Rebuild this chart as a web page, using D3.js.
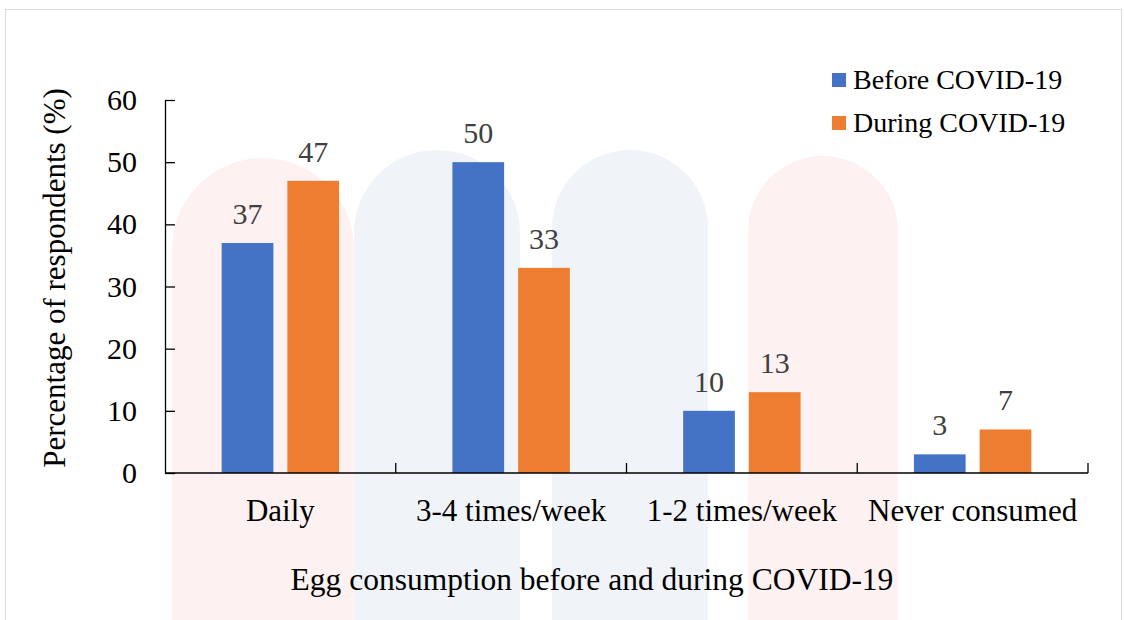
<!DOCTYPE html>
<html>
<head>
<meta charset="utf-8">
<script src="https://cdn.jsdelivr.net/npm/d3@7"></script>
<style>
  body { margin: 0; background: #fff; }
  svg, svg text { font-family: "Liberation Serif", "Times New Roman", Times, serif !important; }
</style>
</head>
<body>
<svg id="chart" width="1124" height="620" font-family="Liberation Serif"></svg>
<script>
// data
const categories = ["Daily", "3-4 times/week", "1-2 times/week", "Never consumed"];
const seriesNames = ["Before COVID-19", "During COVID-19"];
const before = [37, 50, 10, 3];
const during = [47, 33, 13, 7];
const yTicks = [0, 10, 20, 30, 40, 50, 60];

const colors = ["#4472C4", "#ED7D31"];
const serif = "Liberation Serif";

var svg = d3.select("#chart");

// outer frame
svg.append("rect")
    .attr("x", 5.5).attr("y", 9.5)
    .attr("width", 1116).attr("height", 620)
    .attr("fill", "#fff")
    .attr("stroke", "#d9d9d9");

// faint watermark behind the plot
const wm = svg.append("g").attr("class", "watermark");
const arches = [
    {x: 172, w: 182, top: 158, fill: "#fdf1f1"},
    {x: 354, w: 166, top: 150, fill: "#f0f4f8"},
    {x: 552, w: 156, top: 150, fill: "#f0f4f8"},
    {x: 748, w: 150, top: 156, fill: "#fdf1f1"}
];
arches.forEach(a => {
    const r = a.w / 2;
    wm.append("path")
        .attr("d", `M${a.x},620 V${a.top + r} A${r},${r} 0 0 1 ${a.x + a.w},${a.top + r} V620 Z`)
        .attr("fill", a.fill);
});

const margin = {left: 165, right: 36, top: 100, bottom: 147};
const plotW = 1124 - margin.left - margin.right;
const plotH = 620 - margin.top - margin.bottom;

const x0 = d3.scaleBand()
    .domain(categories)
    .range([0, plotW]);

const x1 = d3.scaleBand()
    .domain(seriesNames)
    .range([0, x0.bandwidth()])
    .paddingInner(0.213)
    .paddingOuter(0.8625);

const y = d3.scaleLinear()
    .domain([0, 60])
    .range([plotH, 0]);

const g = svg.append("g")
    .attr("transform", `translate(${margin.left},${margin.top})`);

// y axis
const yAxis = g.append("g")
    .call(d3.axisLeft(y).tickValues(yTicks).tickSizeInner(-10).tickSizeOuter(0).tickPadding(28))
    .attr("font-family", serif);
yAxis.select(".domain").attr("stroke", "#000").attr("stroke-width", 1.3);
yAxis.selectAll(".tick line").attr("stroke", "#000").attr("stroke-width", 1.3);
yAxis.selectAll(".tick text")
    .attr("fill", "#000")
    .attr("font-family", serif)
    .attr("font-size", 30);

// bars
const rows = categories.map((c, i) => ({cat: c, vals: [before[i], during[i]]}));
const groups = g.selectAll(".grp")
    .data(rows)
    .enter().append("g")
    .attr("class", "grp")
    .attr("transform", d => `translate(${x0(d.cat)},0)`);

groups.selectAll("rect")
    .data(d => d.vals.map((v, j) => ({s: seriesNames[j], v: v, j: j})))
    .enter().append("rect")
    .attr("x", d => x1(d.s))
    .attr("y", d => y(d.v))
    .attr("width", x1.bandwidth())
    .attr("height", d => plotH - y(d.v))
    .attr("fill", d => colors[d.j]);

groups.selectAll("text")
    .data(d => d.vals.map((v, j) => ({s: seriesNames[j], v: v, j: j})))
    .enter().append("text")
    .attr("x", d => x1(d.s) + x1.bandwidth() / 2)
    .attr("y", d => y(d.v) - 19)
    .attr("text-anchor", "middle")
    .attr("fill", "#404040")
    .attr("font-family", serif)
    .attr("font-size", 30)
    .text(d => d.v);

// x axis (ticks between categories)
const xAxisG = g.append("g").attr("transform", `translate(0,${plotH})`);
xAxisG.append("line")
    .attr("x1", 0).attr("x2", plotW)
    .attr("stroke", "#000").attr("stroke-width", 1.3);
xAxisG.selectAll(".sep")
    .data(categories)
    .enter().append("line")
    .attr("x1", d => x0(d) + x0.bandwidth())
    .attr("x2", d => x0(d) + x0.bandwidth())
    .attr("y1", 0).attr("y2", -10)
    .attr("stroke", "#000").attr("stroke-width", 1.3);
xAxisG.selectAll(".lbl")
    .data(categories)
    .enter().append("text")
    .attr("x", d => x0(d) + x0.bandwidth() / 2)
    .attr("y", 48)
    .attr("text-anchor", "middle")
    .attr("fill", "#000")
    .attr("font-family", serif)
    .attr("font-size", 31)
    .text(d => d);

// axis titles
svg.append("text")
    .attr("x", 592)
    .attr("y", 590)
    .attr("text-anchor", "middle")
    .attr("font-family", serif)
    .attr("font-size", 31.5)
    .text("Egg consumption before and during COVID-19");

svg.append("text")
    .attr("transform", "translate(65,278) rotate(-90)")
    .attr("text-anchor", "middle")
    .attr("font-family", serif)
    .attr("font-size", 31)
    .text("Percentage of respondents (%)");

// legend
const legend = svg.append("g").attr("transform", "translate(832,73)");
seriesNames.forEach((s, i) => {
    legend.append("rect")
        .attr("x", 0).attr("y", i * 43)
        .attr("width", 14).attr("height", 14)
        .attr("fill", colors[i]);
    legend.append("text")
        .attr("x", 21).attr("y", i * 43 + 16)
        .attr("font-family", serif)
        .attr("font-size", 28)
        .text(s);
});
</script>
</body>
</html>
